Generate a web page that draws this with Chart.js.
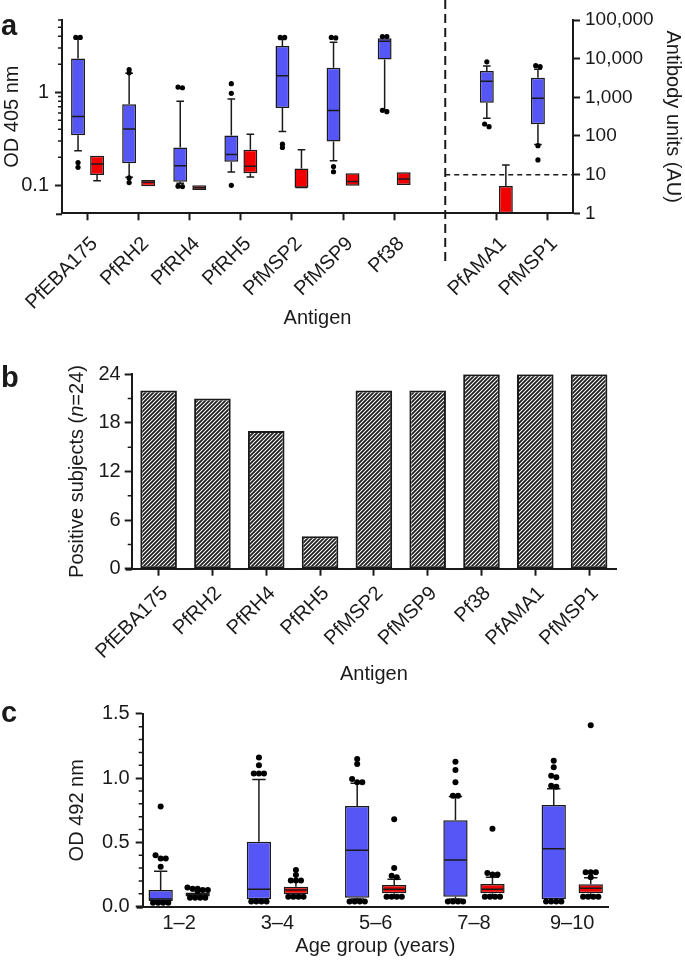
<!DOCTYPE html>
<html>
<head>
<meta charset="utf-8">
<script src="https://cdn.jsdelivr.net/npm/chart.js@4"></script>
<style>
  html, body { margin: 0; padding: 0; background: #fff; }
  body { width: 685px; height: 960px; position: relative; overflow: hidden; }
  canvas { position: absolute; left: 0; }
</style>
</head>
<body>
<canvas id="chartA" width="685" height="330" style="top:0"></canvas>
<canvas id="chartB" width="685" height="356" style="top:330px"></canvas>
<canvas id="chartC" width="685" height="270" style="top:690px"></canvas>
<script>
// ---- data ----
// box stats are [low whisker, q1, median, q3, high whisker]
const odAntigens = ['PfEBA175', 'PfRH2', 'PfRH4', 'PfRH5', 'PfMSP2', 'PfMSP9', 'Pf38'];
const auAntigens = ['PfAMA1', 'PfMSP1'];
const antigenLabelsA = [...odAntigens, '', ...auAntigens];

const odPatients = [
  [0.235, 0.346, 0.55, 2.31, 3.9],
  [0.122, 0.173, 0.404, 0.743, 1.6],
  [0.105, 0.109, 0.162, 0.255, 0.80],
  [0.139, 0.179, 0.215, 0.343, 0.848],
  [0.38, 0.68, 1.51, 3.16, 3.7],
  [0.184, 0.296, 0.637, 1.84, 3.46],
  [0.64, 2.26, 3.55, 3.82, 3.82]
];
const odPatientOutliers = [
  [3.9, 3.9, 0.176, 0.156],
  [1.76, 1.62, 0.12, 0.107],
  [1.14, 1.12, 0.098, 0.097],
  [1.24, 0.975, 0.1],
  [3.9, 3.9, 0.277, 0.255],
  [3.9, 3.85, 0.159, 0.14],
  [3.98, 3.98, 0.64, 0.62]
];
const odControls = [
  [0.112, 0.129, 0.17, 0.208, 0.208],
  [0.098, 0.098, 0.108, 0.114, 0.114],
  [0.089, 0.089, 0.094, 0.1, 0.1],
  [0.123, 0.135, 0.16, 0.241, 0.355],
  [0.094, 0.094, 0.095, 0.152, 0.241],
  [0.099, 0.099, 0.11, 0.135, 0.135],
  [0.101, 0.101, 0.117, 0.138, 0.138]
];
const auPatients = [
  [286, 724, 2600, 4790, 6450],
  [60, 200, 940, 3220, 5300]
];
const auPatientOutliers = [
  [8300, 204, 174],
  [6600, 6200, 56, 24]
];
const auControls = [
  [1, 1, 1, 5.1, 17.7]
];
const auCutoff = 10;
const odTicks = [0.1, 1];
const odMinorTicks = [0.2, 0.3, 0.4, 0.5, 0.6, 0.7, 0.8, 0.9, 2, 3, 4, 5, 6];
const auTicks = [1, 10, 100, 1000, 10000, 100000];

const antigensB = ['PfEBA175', 'PfRH2', 'PfRH4', 'PfRH5', 'PfMSP2', 'PfMSP9', 'Pf38', 'PfAMA1', 'PfMSP1'];
const positiveSubjects = [22, 21, 17, 4, 22, 22, 24, 24, 24];
const positiveTicks = [0, 6, 12, 18, 24];
const positiveMinorTicks = [3, 9, 15, 21];

const ageGroups = ['1\u20132', '3\u20134', '5\u20136', '7\u20138', '9\u201310'];
const agePatients = [
  [0.04, 0.045, 0.06, 0.13, 0.275],
  [0.05, 0.057, 0.135, 0.505, 0.99],
  [0.06, 0.07, 0.438, 0.783, 0.96],
  [0.06, 0.078, 0.363, 0.672, 0.856],
  [0.057, 0.057, 0.451, 0.791, 0.918]
];
const agePatientOutliers = [
  [0.78, 0.40, 0.375, 0.375, 0.31, 0.03, 0.03, 0.03, 0.03],
  [1.16, 1.10, 1.035, 1.035, 1.035, 0.04, 0.04, 0.04, 0.04],
  [1.148, 1.11, 0.993, 0.967, 0.967, 0.04, 0.04, 0.04, 0.04],
  [1.128, 1.063, 0.967, 0.863, 0.863, 0.04, 0.04, 0.04, 0.04],
  [1.135, 1.084, 1.019, 1.006, 0.94, 0.933, 0.04, 0.04, 0.04, 0.04]
];
const ageControls = [
  [0.075, 0.08, 0.095, 0.11, 0.125],
  [0.09, 0.096, 0.13, 0.156, 0.195],
  [0.09, 0.104, 0.135, 0.169, 0.213],
  [0.09, 0.104, 0.135, 0.176, 0.229],
  [0.09, 0.104, 0.143, 0.174, 0.226]
];
const ageControlOutliers = [
  [0.15, 0.14, 0.14, 0.13, 0.13, 0.12, 0.07, 0.07, 0.07, 0.07],
  [0.285, 0.247, 0.203, 0.203, 0.203, 0.078, 0.078, 0.078, 0.078],
  [0.68, 0.30, 0.24, 0.229, 0.078, 0.078, 0.078, 0.078],
  [0.607, 0.262, 0.25, 0.25, 0.078, 0.078, 0.078, 0.078],
  [1.41, 0.267, 0.267, 0.267, 0.229, 0.078, 0.078, 0.078, 0.078]
];
const odTicksC = [0, 0.5, 1.0, 1.5];
const odMinorTicksC = [0.1, 0.2, 0.3, 0.4, 0.6, 0.7, 0.8, 0.9, 1.1, 1.2, 1.3, 1.4];

// ---- styles ----
const FONT = "'Liberation Sans', Arial, sans-serif";
const INK = '#1a1a1a';
const BLUE = '#5656f7';
const RED = '#f00000';
Chart.defaults.font.family = FONT;
Chart.defaults.color = INK;
Chart.defaults.animation = false;

// little helper to draw dots, spreading the ones that overlap
function drawDots(ctx, x, ys, r) {
  const sorted = ys.slice().sort((a, b) => a - b);
  let i = 0;
  while (i < sorted.length) {
    let j = i;
    while (j + 1 < sorted.length && sorted[j + 1] - sorted[i] < r * 1.2) j++;
    const n = j - i + 1;
    for (let k = 0; k < n; k++) {
      const dx = (k - (n - 1) / 2) * r * 1.7;
      ctx.beginPath();
      ctx.arc(x + dx, sorted[i + k], r, 0, Math.PI * 2);
      ctx.fill();
    }
    i = j + 1;
  }
}

// whiskers, medians and outliers on top of the floating bars
const boxPlugin = {
  id: 'boxPlot',
  afterDatasetsDraw(chart, args, opts) {
    const ctx = chart.ctx;
    const area = chart.chartArea;
    const r = opts.dotRadius || 2.5;
    ctx.save();
    ctx.beginPath();
    ctx.rect(area.left, area.top - 8, area.right - area.left, area.bottom - area.top + 8);
    ctx.clip();
    chart.data.datasets.forEach(function (ds, di) {
      if (!ds.boxStats) return;
      const meta = chart.getDatasetMeta(di);
      const ys = chart.scales[ds.yAxisID || 'y'];
      const py = function (v) { return ys.getPixelForValue(v); };
      ds.boxStats.forEach(function (s, i) {
        if (!s) return;
        const bar = meta.data[i];
        const x = bar.x, hw = bar.width / 2, cw = hw * 0.55;
        ctx.strokeStyle = INK;
        ctx.lineWidth = 1.5;
        ctx.beginPath();
        if (s[4] > s[3]) {
          ctx.moveTo(x, py(s[3])); ctx.lineTo(x, py(s[4]));
          ctx.moveTo(x - cw, py(s[4])); ctx.lineTo(x + cw, py(s[4]));
        }
        if (s[0] < s[1]) {
          ctx.moveTo(x, py(s[1])); ctx.lineTo(x, py(s[0]));
          ctx.moveTo(x - cw, py(s[0])); ctx.lineTo(x + cw, py(s[0]));
        }
        ctx.moveTo(x - hw + 1, py(s[2])); ctx.lineTo(x + hw - 1, py(s[2]));
        ctx.stroke();
        const out = (ds.boxOutliers && ds.boxOutliers[i]) || [];
        ctx.fillStyle = '#000';
        drawDots(ctx, x, out.map(py), r);
      });
    });
    ctx.restore();
  }
};

// extra drawing: panel tag, short minor ticks, axis stub, dashed separators, mixed-style title
const decorPlugin = {
  id: 'decor',
  afterDraw(chart, args, o) {
    const ctx = chart.ctx;
    const area = chart.chartArea;
    ctx.save();
    ctx.strokeStyle = INK;
    ctx.fillStyle = INK;
    if (o.tag) {
      ctx.font = 'bold 29px ' + FONT;
      ctx.textBaseline = 'alphabetic';
      ctx.fillText(o.tag.text, o.tag.x, o.tag.y);
    }
    (o.minor || []).forEach(function (m) {
      const s = chart.scales[m.axis];
      const right = s.position === 'right';
      const x0 = right ? area.right : area.left;
      ctx.lineWidth = 1.5;
      ctx.beginPath();
      m.values.forEach(function (v) {
        const y = s.getPixelForValue(v);
        ctx.moveTo(x0, y);
        ctx.lineTo(x0 + (right ? 1 : -1) * m.len, y);
      });
      ctx.stroke();
    });
    // x axis line sticks out a bit to the left like the original
    ctx.lineWidth = 2;
    ctx.beginPath();
    ctx.moveTo(area.left - 6, area.bottom + 1);
    ctx.lineTo(area.left, area.bottom + 1);
    ctx.stroke();
    if (o.separator) {
      const xs = chart.scales.x.getPixelForValue(o.separator.index);
      ctx.lineWidth = 2;
      ctx.setLineDash([9, 5]);
      ctx.beginPath();
      ctx.moveTo(xs, 0);
      ctx.lineTo(xs, o.separator.bottom);
      ctx.stroke();
      const yc = chart.scales[o.separator.axis].getPixelForValue(o.separator.value);
      ctx.lineWidth = 1.5;
      ctx.setLineDash([5, 4]);
      ctx.beginPath();
      ctx.moveTo(xs, yc);
      ctx.lineTo(area.right, yc);
      ctx.stroke();
      ctx.setLineDash([]);
    }
    if (o.yTitle) {
      const parts = o.yTitle.parts;
      const size = o.yTitle.size;
      ctx.translate(o.yTitle.x, (area.top + area.bottom) / 2);
      ctx.rotate(-Math.PI / 2);
      let total = 0;
      parts.forEach(function (p) {
        ctx.font = (p.italic ? 'italic ' : '') + size + 'px ' + FONT;
        p.w = ctx.measureText(p.t).width;
        total += p.w;
      });
      let x = -total / 2;
      ctx.textBaseline = 'middle';
      ctx.textAlign = 'left';
      parts.forEach(function (p) {
        ctx.font = (p.italic ? 'italic ' : '') + size + 'px ' + FONT;
        ctx.fillText(p.t, x, 0);
        x += p.w;
      });
    }
    ctx.restore();
  }
};

function fixedTicks(values) {
  return function (scale) { scale.ticks = values.map(function (v) { return { value: v }; }); };
}
function fixWidth(w) { return function (s) { s.width = w; }; }
function fixHeight(h) { return function (s) { s.height = h; }; }

const axisLine = { display: true, color: INK, width: 2 };
const tickGrid = { drawOnChartArea: false, offset: false, tickLength: 7, tickWidth: 2, tickColor: INK };

function boxDataset(label, stats, outliers, start, labels, axis, stack, color, cp, bp) {
  const slots = labels.map(function (_, i) { return stats[i - start] || null; });
  const outs = labels.map(function (_, i) { return outliers ? (outliers[i - start] || null) : null; });
  return {
    label: label,
    data: slots.map(function (s) { return s ? [s[1], s[3]] : null; }),
    boxStats: slots,
    boxOutliers: outs,
    yAxisID: axis,
    stack: stack,
    backgroundColor: color,
    borderColor: INK,
    borderWidth: 1.5,
    borderSkipped: false,
    categoryPercentage: cp,
    barPercentage: bp
  };
}

// ---- panel a ----
new Chart(document.getElementById('chartA'), {
  type: 'bar',
  data: {
    labels: antigenLabelsA,
    datasets: [
      boxDataset('Patients (OD)', odPatients, odPatientOutliers, 0, antigenLabelsA, 'y', 'pos', BLUE, 0.745, 0.73),
      boxDataset('Controls (OD)', odControls, null, 0, antigenLabelsA, 'y', 'neg', RED, 0.745, 0.73),
      boxDataset('Patients (AU)', auPatients, auPatientOutliers, 8, antigenLabelsA, 'y2', 'pos', BLUE, 0.745, 0.73),
      boxDataset('Controls (AU)', auControls, null, 8, antigenLabelsA, 'y2', 'neg', RED, 0.745, 0.73)
    ]
  },
  options: {
    responsive: false,
    layout: { padding: { top: 20, left: 0, right: 0, bottom: 0 } },
    plugins: {
      legend: { display: false },
      tooltip: { enabled: false },
      boxPlot: { dotRadius: 2.6 },
      decor: {
        tag: { text: 'a', x: 1, y: 35 },
        minor: [{ axis: 'y', values: odMinorTicks, len: 4 }],
        separator: { index: 7, bottom: 264, axis: 'y2', value: auCutoff }
      }
    },
    scales: {
      x: {
        offset: true,
        border: axisLine,
        grid: Object.assign({}, tickGrid, {
          tickColor: function (c) { return antigenLabelsA[c.index] ? INK : 'rgba(0,0,0,0)'; }
        }),
        ticks: { font: { size: 20 }, maxRotation: 45, minRotation: 45, autoSkip: false, padding: 12, labelOffset: 7 },
        title: { display: true, text: 'Antigen', font: { size: 20 }, padding: { top: 0, bottom: 0 } },
        afterFit: fixHeight(116.7)
      },
      y: {
        type: 'logarithmic',
        position: 'left',
        min: 0.05,
        max: 6,
        stacked: false,
        border: axisLine,
        grid: tickGrid,
        afterBuildTicks: fixedTicks(odTicks),
        ticks: { font: { size: 20 }, padding: 6, callback: function (v) { return String(v); } },
        title: { display: true, text: 'OD 405 nm', font: { size: 20 }, padding: { top: 0, bottom: 0 } },
        afterFit: fixWidth(62)
      },
      y2: {
        type: 'logarithmic',
        position: 'right',
        min: 1,
        max: 100000,
        stacked: false,
        border: axisLine,
        grid: tickGrid,
        afterBuildTicks: fixedTicks(auTicks),
        ticks: { font: { size: 19 }, padding: 5, callback: function (v) { return v.toLocaleString('en-US'); } },
        title: { display: true, text: 'Antibody units (AU)', font: { size: 20 }, padding: { top: 0, bottom: 0 } },
        afterFit: fixWidth(112)
      }
    }
  },
  plugins: [boxPlugin, decorPlugin]
});

// ---- panel b ----
function hatch() {
  const c = document.createElement('canvas');
  c.width = 4; c.height = 4;
  const g = c.getContext('2d');
  g.fillStyle = '#fff';
  g.fillRect(0, 0, 4, 4);
  g.strokeStyle = '#1e1e1e';
  g.lineWidth = 1.8;
  g.beginPath();
  g.moveTo(-1, 1); g.lineTo(1, -1);
  g.moveTo(0, 4); g.lineTo(4, 0);
  g.moveTo(3, 5); g.lineTo(5, 3);
  g.stroke();
  return document.getElementById('chartB').getContext('2d').createPattern(c, 'repeat');
}

new Chart(document.getElementById('chartB'), {
  type: 'bar',
  data: {
    labels: antigensB,
    datasets: [{
      label: 'Positive subjects',
      data: positiveSubjects,
      backgroundColor: hatch(),
      borderColor: INK,
      borderWidth: 2,
      borderSkipped: false,
      categoryPercentage: 1,
      barPercentage: 0.68
    }]
  },
  options: {
    responsive: false,
    layout: { padding: { top: 44.3, right: 69, left: 0, bottom: 0 } },
    plugins: {
      legend: { display: false },
      tooltip: { enabled: false },
      decor: {
        tag: { text: 'b', x: 1, y: 57 },
        minor: [{ axis: 'y', values: positiveMinorTicks, len: 4 }],
        yTitle: { x: 77, size: 20, parts: [{ t: 'Positive subjects (' }, { t: 'n', italic: true }, { t: '=24)' }] }
      }
    },
    scales: {
      x: {
        border: axisLine,
        grid: tickGrid,
        ticks: { font: { size: 20 }, maxRotation: 45, minRotation: 45, autoSkip: false, padding: 6, labelOffset: 6 },
        title: { display: true, text: 'Antigen', font: { size: 20 }, padding: { top: 0, bottom: 0 } },
        afterFit: fixHeight(117.3)
      },
      y: {
        min: 0,
        max: 24,
        border: axisLine,
        grid: tickGrid,
        afterBuildTicks: fixedTicks(positiveTicks),
        ticks: { font: { size: 20 }, padding: 4 },
        afterFit: fixWidth(131.7)
      }
    }
  },
  plugins: [decorPlugin]
});

// ---- panel c ----
new Chart(document.getElementById('chartC'), {
  type: 'bar',
  data: {
    datasets: [
      boxDataset('Patients', agePatients, agePatientOutliers, 0, ageGroups, 'y', 'pos', BLUE, 0.753, 0.657),
      boxDataset('Controls', ageControls, ageControlOutliers, 0, ageGroups, 'y', 'neg', RED, 0.753, 0.657)
    ].map(function (ds) {
      ds.data = ds.data.map(function (v, i) { return { x: i, y: v }; });
      return ds;
    })
  },
  options: {
    responsive: false,
    layout: { padding: { top: 23.8, right: 77, left: 0, bottom: 0 } },
    plugins: {
      legend: { display: false },
      tooltip: { enabled: false },
      boxPlot: { dotRadius: 3 },
      decor: {
        tag: { text: 'c', x: 1, y: 32 },
        minor: [{ axis: 'y', values: odMinorTicksC, len: 4 }]
      }
    },
    scales: {
      x: {
        type: 'linear',
        offset: false,
        min: -0.371,
        max: 4.364,
        border: axisLine,
        grid: { drawOnChartArea: false, drawTicks: false, offset: false },
        afterBuildTicks: fixedTicks(ageGroups.map(function (_, i) { return i; })),
        ticks: { font: { size: 20 }, padding: 5, callback: function (v) { return ageGroups[v]; } },
        title: { display: true, text: 'Age group (years)', font: { size: 20 }, padding: { top: 0, bottom: 1.5 } },
        afterFit: fixHeight(53.3)
      },
      y: {
        min: 0,
        max: 1.5,
        stacked: false,
        border: axisLine,
        grid: tickGrid,
        afterBuildTicks: fixedTicks(odTicksC),
        ticks: { font: { size: 20 }, padding: 6, callback: function (v) { return v.toFixed(1); } },
        title: { display: true, text: 'OD 492 nm', font: { size: 20 }, padding: { top: 65, bottom: 0 } },
        afterFit: fixWidth(142.7)
      }
    }
  },
  plugins: [boxPlugin, decorPlugin]
});
</script>
</body>
</html>
